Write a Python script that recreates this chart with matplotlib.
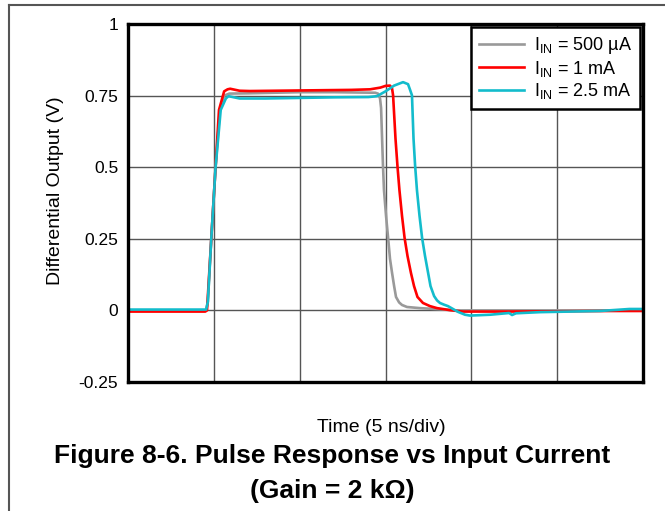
import matplotlib
matplotlib.use('Agg')
import matplotlib.pyplot as plt
from matplotlib.lines import Line2D

plt.rcParams['font.family'] = ['Liberation Sans', 'DejaVu Sans']
plt.rcParams['mathtext.fontset'] = 'custom'
plt.rcParams['mathtext.rm'] = 'Liberation Sans'
plt.rcParams['mathtext.it'] = 'Liberation Sans:italic'

# time in ns (5 ns/div), output in V
t_500u = [0, 2, 4.55, 4.65, 4.85, 5.1, 5.35, 5.6, 5.9, 7, 10, 12, 14.4, 14.56,
          14.68, 14.74, 14.85, 14.91, 15.03, 15.15, 15.26, 15.38, 15.5, 15.61,
          15.79, 15.96, 16.25, 17.0, 18.2, 19.0, 22, 26, 30]
v_500u = [0, 0, 0, 0.03, 0.25, 0.5, 0.7, 0.75, 0.757, 0.758, 0.762, 0.762,
          0.76, 0.757, 0.74, 0.707, 0.508, 0.42, 0.33, 0.253, 0.18, 0.131,
          0.085, 0.047, 0.028, 0.019, 0.012, 0.008, 0.004, 0.0, 0.0, 0.0, 0.0]

t_1m = [0, 2, 4.5, 4.6, 4.8, 5.05, 5.3, 5.6, 5.8, 5.95, 6.5, 7.1, 10, 13, 14.1,
        14.7, 15.0, 15.26, 15.38, 15.44, 15.58, 15.70, 15.81, 15.96, 16.11,
        16.28, 16.48, 16.66, 16.86, 17.18, 17.59, 18.0, 18.76, 19.5, 22, 25,
        28, 30]
v_1m = [-0.004, -0.004, -0.004, 0.0, 0.2, 0.45, 0.7, 0.765, 0.772, 0.774,
        0.767, 0.766, 0.768, 0.77, 0.772, 0.778, 0.784, 0.785, 0.775, 0.751,
        0.6, 0.5, 0.42, 0.33, 0.253, 0.19, 0.131, 0.085, 0.047, 0.026, 0.015,
        0.008, 0.001, -0.004, -0.004, -0.003, -0.002, -0.002]

t_2m5 = [0, 2, 4.55, 4.65, 4.85, 5.1, 5.4, 5.7, 5.85, 6.1, 6.5, 8, 10, 12, 14,
         14.5, 15.0, 15.5, 16.02, 16.31, 16.43, 16.54, 16.63, 16.72, 16.83,
         16.98, 17.13, 17.30, 17.48, 17.62, 17.83, 18.0, 18.17, 18.41, 18.64,
         18.93, 19.22, 19.63, 19.92, 21.1, 22.2, 22.37, 22.6, 24, 27.5, 29.2, 30]
v_2m5 = [0.003, 0.003, 0.003, 0.03, 0.25, 0.5, 0.7, 0.74, 0.748, 0.745, 0.74,
         0.74, 0.742, 0.744, 0.745, 0.748, 0.765, 0.785, 0.797, 0.79, 0.77,
         0.751, 0.6, 0.508, 0.42, 0.33, 0.253, 0.19, 0.131, 0.085, 0.05, 0.035,
         0.026, 0.02, 0.015, 0.005, -0.005, -0.015, -0.018, -0.015, -0.009,
         -0.016, -0.01, -0.006, -0.002, 0.005, 0.005]

labels = ['I$_{\\mathrm{IN}}$ = 500 \u00b5A', 'I$_{\\mathrm{IN}}$ = 1 mA',
          'I$_{\\mathrm{IN}}$ = 2.5 mA']
yticks = [-0.25, 0, 0.25, 0.5, 0.75, 1]
ytick_labels = ['-0.25', '0', '0.25', '0.5', '0.75', '1']

fig = plt.figure(figsize=(6.65, 5.11), dpi=100)
ax = fig.add_axes([0.1925, 0.2524, 0.7745, 0.7006])

ax.plot(t_500u, v_500u, color='#999999', lw=1.9, label=labels[0])
ax.plot(t_1m, v_1m, color='#ff0000', lw=1.9, label=labels[1])
ax.plot(t_2m5, v_2m5, color='#13bccc', lw=1.9, label=labels[2])

ax.set_xlim(0, 30)
ax.set_ylim(-0.25, 1)
ax.set_xticks(range(0, 31, 5))
ax.set_xticklabels([])
ax.set_yticks(yticks)
ax.set_yticklabels(ytick_labels)
ax.tick_params(length=0, labelsize=12.5, pad=7)
ax.grid(True, color='#555555', lw=1.0)
for s in ax.spines.values():
    s.set_linewidth(2.4)
    s.set_color('black')

ax.set_ylabel('Differential Output (V)', fontsize=14)
ax.yaxis.set_label_coords(-0.125, 0.535)

leg = ax.legend(loc='upper right', fontsize=13, fancybox=False, framealpha=1,
                edgecolor='black', borderaxespad=0.15, labelspacing=0.15,
                handlelength=2.5, handletextpad=0.55, borderpad=0.45)
leg.get_frame().set_linewidth(1.8)

fig.text(0.573, 0.164, 'Time (5 ns/div)', ha='center', va='center', fontsize=14)
fig.text(0.5, 0.108, 'Figure 8-6. Pulse Response vs Input Current',
         ha='center', va='center', fontsize=19, fontweight='bold')
fig.text(0.5, 0.04, '(Gain = 2 k\u03a9)', ha='center', va='center',
         fontsize=19, fontweight='bold')

# page frame lines (top and left)
fig.add_artist(Line2D([0.0135, 1], [0.991, 0.991], transform=fig.transFigure,
                      color='#555555', lw=1.5))
fig.add_artist(Line2D([0.0135, 0.0135], [0, 0.991], transform=fig.transFigure,
                      color='#555555', lw=1.5))

fig.savefig('out.png', dpi=100)
